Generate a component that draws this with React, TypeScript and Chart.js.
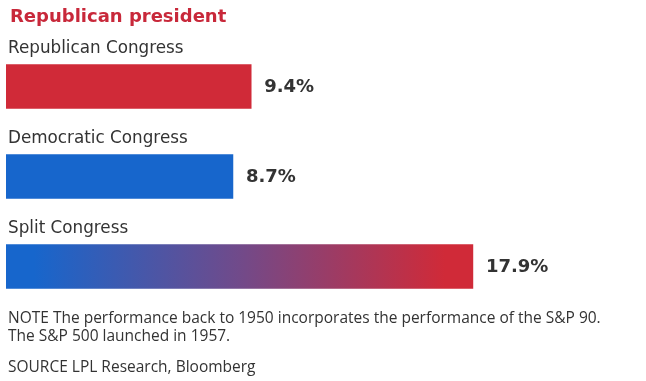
import React, { useEffect, useRef } from "react";
import { Chart, registerables } from "chart.js";

Chart.register(...registerables);

const categories = ["Republican Congress", "Democratic Congress", "Split Congress"];
const values = [9.4, 8.7, 17.9];
const valueLabels = ["9.4%", "8.7%", "17.9%"];
const titleText = "Republican president";
const noteLines = [
  "NOTE The performance back to 1950 incorporates the performance of the S&P 90.",
  "The S&P 500 launched in 1957.",
];
const sourceText = "SOURCE LPL Research, Bloomberg";

const RED = "#d02a38";
const BLUE = "#1766cc";
const TEXT = "#333333";

export default function App() {
  const canvasRef = useRef<HTMLCanvasElement | null>(null);

  useEffect(() => {
    const canvas = canvasRef.current;
    if (!canvas) return;

    const labelPlugin = {
      id: "barLabels",
      afterDatasetsDraw(chart: any) {
        const ctx = chart.ctx;
        const meta = chart.getDatasetMeta(0);
        ctx.save();
        meta.data.forEach((bar: any, i: number) => {
          const top = bar.y - bar.height / 2;
          ctx.fillStyle = TEXT;
          ctx.textBaseline = "alphabetic";
          ctx.textAlign = "left";
          ctx.font = "16.8px 'DejaVu Sans'";
          ctx.fillText(categories[i], 8, top - 12);
          ctx.font = "bold 18px 'DejaVu Sans'";
          ctx.textBaseline = "middle";
          ctx.fillStyle = "#333333";
          ctx.fillText(valueLabels[i], bar.x + 13, bar.y + 1);
        });
        ctx.restore();
      },
    };

    const chart = new Chart(canvas, {
      type: "bar",
      data: {
        labels: categories,
        datasets: [
          {
            data: values,
            barThickness: 44,
            borderWidth: 0,
            backgroundColor: (c: any) => {
              const i = c.dataIndex;
              if (i === 0) return RED;
              if (i === 1) return BLUE;
              const chartObj = c.chart;
              const area = chartObj.chartArea;
              const xs = chartObj.scales.x;
              if (!area || !xs) return BLUE;
              const x0 = xs.getPixelForValue(0);
              const x1 = xs.getPixelForValue(values[2]);
              const g = chartObj.ctx.createLinearGradient(x0, 0, x1, 0);
              g.addColorStop(0, BLUE);
              g.addColorStop(0.06, BLUE);
              g.addColorStop(0.5, "#714a8a");
              g.addColorStop(0.94, RED);
              g.addColorStop(1, RED);
              return g;
            },
          },
        ],
      },
      options: {
        indexAxis: "y",
        responsive: true,
        maintainAspectRatio: false,
        animation: false,
        layout: { padding: { left: 6, right: 14, top: 41.5, bottom: 69.5 } },
        scales: {
          x: { display: false, min: 0, max: 24 },
          y: { display: false },
        },
        plugins: {
          legend: { display: false },
          tooltip: { enabled: false },
          title: { display: false },
        },
      },
      plugins: [labelPlugin],
    } as any);

    return () => chart.destroy();
  }, []);

  return (
    <div
      style={{
        position: "fixed",
        left: 0,
        top: 0,
        width: 646,
        height: 381,
        background: "#ffffff",
        overflow: "hidden",
      }}
    >
      <div style={{ position: "absolute", left: 0, top: 0, width: 646, height: 381 }}>
        <canvas ref={canvasRef} />
      </div>
      <div
        style={{
          position: "absolute",
          left: 10,
          top: 6.8,
          font: "bold 18px 'DejaVu Sans'",
          lineHeight: "18px",
          color: "#c8283a",
          whiteSpace: "nowrap",
        }}
      >
        {titleText}
      </div>
      <div
        style={{
          position: "absolute",
          left: 8,
          top: 307.7,
          font: "15.5px 'Open Sans'",
          lineHeight: "18px",
          color: TEXT,
          whiteSpace: "nowrap",
        }}
      >
        {noteLines.map((l, i) => (
          <div key={i}>{l}</div>
        ))}
      </div>
      <div
        style={{
          position: "absolute",
          left: 8,
          top: 357.3,
          font: "15.5px 'Open Sans'",
          lineHeight: "18px",
          color: TEXT,
          whiteSpace: "nowrap",
        }}
      >
        {sourceText}
      </div>
    </div>
  );
}
